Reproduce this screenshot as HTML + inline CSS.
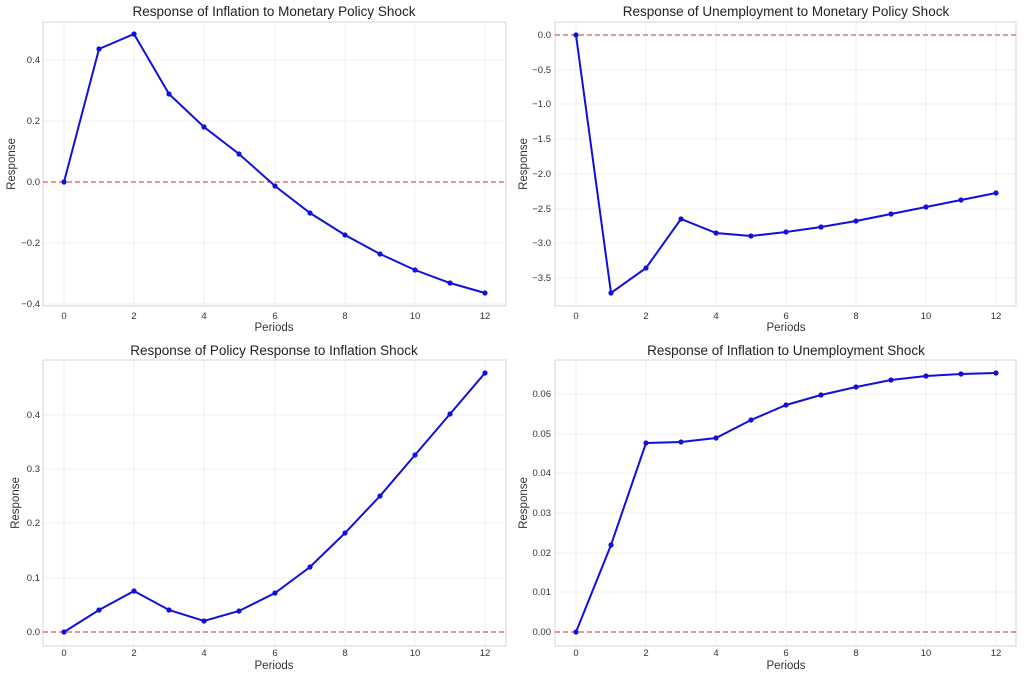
<!DOCTYPE html>
<html><head><meta charset="utf-8"><style>
body{margin:0;background:#fff}
svg text{font-family:"Liberation Sans",sans-serif;fill:#333}
.t{font-size:13.5px;text-anchor:middle;fill:#222}
.k{font-size:9.5px;fill:#444}
.l{font-size:11.5px;text-anchor:middle;fill:#333}
.g{stroke:#ebebeb;stroke-width:0.8}
.b{fill:none;stroke:#d6d6d6;stroke-width:1}
.z{stroke:#e05555;stroke-width:1.2;stroke-dasharray:5,3}
.s{fill:none;stroke:#1010dd;stroke-width:2}
.p{fill:#1010dd}
</style></head><body>
<svg width="1024" height="679" xmlns="http://www.w3.org/2000/svg">
<!-- TL -->
<g>
<g class="g"><line x1="64" y1="22" x2="64" y2="306"/><line x1="134" y1="22" x2="134" y2="306"/><line x1="204" y1="22" x2="204" y2="306"/><line x1="275" y1="22" x2="275" y2="306"/><line x1="345" y1="22" x2="345" y2="306"/><line x1="415" y1="22" x2="415" y2="306"/><line x1="485" y1="22" x2="485" y2="306"/>
<line x1="43" y1="60" x2="506" y2="60"/><line x1="43" y1="121" x2="506" y2="121"/><line x1="43" y1="243" x2="506" y2="243"/><line x1="43" y1="304" x2="506" y2="304"/></g>
<rect class="b" x="43" y="22" width="463" height="284"/>
<line class="z" x1="43" y1="182" x2="506" y2="182"/>
<polyline class="s" points="64,182 99,49 134,34 169,94 204,127 239,154 275,186 310,213 345,235 380,254 415,270 450,283 485,293"/>
<g class="p"><circle cx="64" cy="182" r="2.6"/><circle cx="99" cy="49" r="2.6"/><circle cx="134" cy="34" r="2.6"/><circle cx="169" cy="94" r="2.6"/><circle cx="204" cy="127" r="2.6"/><circle cx="239" cy="154" r="2.6"/><circle cx="275" cy="186" r="2.6"/><circle cx="310" cy="213" r="2.6"/><circle cx="345" cy="235" r="2.6"/><circle cx="380" cy="254" r="2.6"/><circle cx="415" cy="270" r="2.6"/><circle cx="450" cy="283" r="2.6"/><circle cx="485" cy="293" r="2.6"/></g>
<g class="k" text-anchor="middle"><text x="64" y="319">0</text><text x="134" y="319">2</text><text x="204" y="319">4</text><text x="275" y="319">6</text><text x="345" y="319">8</text><text x="415" y="319">10</text><text x="485" y="319">12</text></g>
<g class="k" text-anchor="end"><text x="40" y="63">0.4</text><text x="40" y="124">0.2</text><text x="40" y="185">0.0</text><text x="40" y="246">−0.2</text><text x="40" y="307">−0.4</text></g>
<text class="t" x="274" y="16">Response of Inflation to Monetary Policy Shock</text>
<text class="l" x="274" y="331">Periods</text>
<text class="l" transform="translate(15,164) rotate(-90)">Response</text>
</g>
<!-- TR -->
<g>
<g class="g"><line x1="576" y1="22" x2="576" y2="306"/><line x1="646" y1="22" x2="646" y2="306"/><line x1="716" y1="22" x2="716" y2="306"/><line x1="786" y1="22" x2="786" y2="306"/><line x1="856" y1="22" x2="856" y2="306"/><line x1="926" y1="22" x2="926" y2="306"/><line x1="996" y1="22" x2="996" y2="306"/>
<line x1="555" y1="70" x2="1016" y2="70"/><line x1="555" y1="104" x2="1016" y2="104"/><line x1="555" y1="139" x2="1016" y2="139"/><line x1="555" y1="174" x2="1016" y2="174"/><line x1="555" y1="209" x2="1016" y2="209"/><line x1="555" y1="243" x2="1016" y2="243"/><line x1="555" y1="278" x2="1016" y2="278"/></g>
<rect class="b" x="555" y="22" width="461" height="284"/>
<line class="z" x1="555" y1="35" x2="1016" y2="35"/>
<polyline class="s" points="576,35 611,293 646,268 681,219 716,233 751,236 786,232 821,227 856,221 891,214 926,207 961,200 996,193"/>
<g class="p"><circle cx="576" cy="35" r="2.6"/><circle cx="611" cy="293" r="2.6"/><circle cx="646" cy="268" r="2.6"/><circle cx="681" cy="219" r="2.6"/><circle cx="716" cy="233" r="2.6"/><circle cx="751" cy="236" r="2.6"/><circle cx="786" cy="232" r="2.6"/><circle cx="821" cy="227" r="2.6"/><circle cx="856" cy="221" r="2.6"/><circle cx="891" cy="214" r="2.6"/><circle cx="926" cy="207" r="2.6"/><circle cx="961" cy="200" r="2.6"/><circle cx="996" cy="193" r="2.6"/></g>
<g class="k" text-anchor="middle"><text x="576" y="319">0</text><text x="646" y="319">2</text><text x="716" y="319">4</text><text x="786" y="319">6</text><text x="856" y="319">8</text><text x="926" y="319">10</text><text x="996" y="319">12</text></g>
<g class="k" text-anchor="end"><text x="551" y="38">0.0</text><text x="551" y="73">−0.5</text><text x="551" y="107">−1.0</text><text x="551" y="142">−1.5</text><text x="551" y="177">−2.0</text><text x="551" y="212">−2.5</text><text x="551" y="246">−3.0</text><text x="551" y="281">−3.5</text></g>
<text class="t" x="786" y="16">Response of Unemployment to Monetary Policy Shock</text>
<text class="l" x="786" y="331">Periods</text>
<text class="l" transform="translate(527,164) rotate(-90)">Response</text>
</g>
<!-- BL -->
<g>
<g class="g"><line x1="64" y1="360" x2="64" y2="646"/><line x1="134" y1="360" x2="134" y2="646"/><line x1="204" y1="360" x2="204" y2="646"/><line x1="275" y1="360" x2="275" y2="646"/><line x1="345" y1="360" x2="345" y2="646"/><line x1="415" y1="360" x2="415" y2="646"/><line x1="485" y1="360" x2="485" y2="646"/>
<line x1="43" y1="578" x2="506" y2="578"/><line x1="43" y1="523" x2="506" y2="523"/><line x1="43" y1="469" x2="506" y2="469"/><line x1="43" y1="415" x2="506" y2="415"/></g>
<rect class="b" x="43" y="360" width="463" height="286"/>
<line class="z" x1="43" y1="632" x2="506" y2="632"/>
<polyline class="s" points="64,632 99,610 134,591 169,610 204,621 239,611 275,593 310,567 345,533 380,496 415,455 450,414 485,373"/>
<g class="p"><circle cx="64" cy="632" r="2.6"/><circle cx="99" cy="610" r="2.6"/><circle cx="134" cy="591" r="2.6"/><circle cx="169" cy="610" r="2.6"/><circle cx="204" cy="621" r="2.6"/><circle cx="239" cy="611" r="2.6"/><circle cx="275" cy="593" r="2.6"/><circle cx="310" cy="567" r="2.6"/><circle cx="345" cy="533" r="2.6"/><circle cx="380" cy="496" r="2.6"/><circle cx="415" cy="455" r="2.6"/><circle cx="450" cy="414" r="2.6"/><circle cx="485" cy="373" r="2.6"/></g>
<g class="k" text-anchor="middle"><text x="64" y="656">0</text><text x="134" y="656">2</text><text x="204" y="656">4</text><text x="275" y="656">6</text><text x="345" y="656">8</text><text x="415" y="656">10</text><text x="485" y="656">12</text></g>
<g class="k" text-anchor="end"><text x="40" y="635">0.0</text><text x="40" y="581">0.1</text><text x="40" y="526">0.2</text><text x="40" y="472">0.3</text><text x="40" y="418">0.4</text></g>
<text class="t" x="274" y="355">Response of Policy Response to Inflation Shock</text>
<text class="l" x="274" y="669">Periods</text>
<text class="l" transform="translate(19,503) rotate(-90)">Response</text>
</g>
<!-- BR -->
<g>
<g class="g"><line x1="576" y1="360" x2="576" y2="646"/><line x1="646" y1="360" x2="646" y2="646"/><line x1="716" y1="360" x2="716" y2="646"/><line x1="786" y1="360" x2="786" y2="646"/><line x1="856" y1="360" x2="856" y2="646"/><line x1="926" y1="360" x2="926" y2="646"/><line x1="996" y1="360" x2="996" y2="646"/>
<line x1="555" y1="592" x2="1016" y2="592"/><line x1="555" y1="553" x2="1016" y2="553"/><line x1="555" y1="513" x2="1016" y2="513"/><line x1="555" y1="473" x2="1016" y2="473"/><line x1="555" y1="434" x2="1016" y2="434"/><line x1="555" y1="394" x2="1016" y2="394"/></g>
<rect class="b" x="555" y="360" width="461" height="286"/>
<line class="z" x1="555" y1="632" x2="1016" y2="632"/>
<polyline class="s" points="576,632 611,545 646,443 681,442 716,438 751,420 786,405 821,395 856,387 891,380 926,376 961,374 996,373"/>
<g class="p"><circle cx="576" cy="632" r="2.6"/><circle cx="611" cy="545" r="2.6"/><circle cx="646" cy="443" r="2.6"/><circle cx="681" cy="442" r="2.6"/><circle cx="716" cy="438" r="2.6"/><circle cx="751" cy="420" r="2.6"/><circle cx="786" cy="405" r="2.6"/><circle cx="821" cy="395" r="2.6"/><circle cx="856" cy="387" r="2.6"/><circle cx="891" cy="380" r="2.6"/><circle cx="926" cy="376" r="2.6"/><circle cx="961" cy="374" r="2.6"/><circle cx="996" cy="373" r="2.6"/></g>
<g class="k" text-anchor="middle"><text x="576" y="656">0</text><text x="646" y="656">2</text><text x="716" y="656">4</text><text x="786" y="656">6</text><text x="856" y="656">8</text><text x="926" y="656">10</text><text x="996" y="656">12</text></g>
<g class="k" text-anchor="end"><text x="551" y="635">0.00</text><text x="551" y="595">0.01</text><text x="551" y="556">0.02</text><text x="551" y="516">0.03</text><text x="551" y="476">0.04</text><text x="551" y="437">0.05</text><text x="551" y="397">0.06</text></g>
<text class="t" x="786" y="355">Response of Inflation to Unemployment Shock</text>
<text class="l" x="786" y="669">Periods</text>
<text class="l" transform="translate(527,503) rotate(-90)">Response</text>
</g>
</svg>
</body></html>
